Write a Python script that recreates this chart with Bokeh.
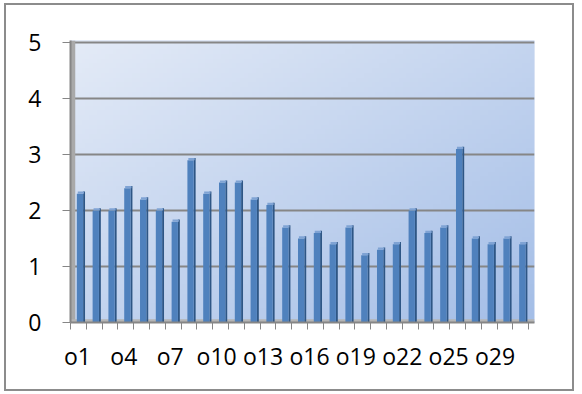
import numpy as np
from bokeh.plotting import figure
from bokeh.layouts import column
from bokeh.models import Range1d, FixedTicker, LinearAxis
from bokeh.embed import file_html
from bokeh.resources import INLINE

# ---- data ----
categories = ["o1", "o2", "o3", "o4", "o5", "o6", "o7", "o8", "o9", "o10",
              "o11", "o12", "o13", "o14", "o15", "o16", "o17", "o18", "o19", "o20",
              "o21", "o22", "o23", "o24", "o25", "o26", "o27", "o29", "o30"]
values = [2.3, 2.0, 2.0, 2.4, 2.2, 2.0, 1.8, 2.9, 2.3, 2.5,
          2.5, 2.2, 2.1, 1.7, 1.5, 1.6, 1.4, 1.7, 1.2, 1.3,
          1.4, 2.0, 1.6, 1.7, 3.1, 1.5, 1.4, 1.5, 1.4]
y_ticks = [0, 1, 2, 3, 4, 5]
label_step = 3

n = len(categories)
pos = np.arange(1, n + 1)          # category centres
x_start, x_end = 0.5, n + 0.5 + 0.37
y_start, y_end = 0, 5.04

FONT = "Open Sans"
GRAY = "#868686"

p = figure(width=566, height=384, output_backend="svg", toolbar_location=None,
           x_range=Range1d(x_start, x_end), y_range=Range1d(y_start, y_end),
           x_axis_location=None,
           min_border_left=64, min_border_right=38, min_border_top=35, min_border_bottom=67)
p.outline_line_color = None
p.background_fill_color = "#C8D6EF"
p.border_fill_color = "white"

# label axis range: the front-edge category labels sit slightly tighter than the bars
p.extra_x_ranges = {"labels": Range1d(0.55, 30.55)}

# diagonal gradient back wall
H, W = 60, 120
yy, xx = np.mgrid[0:H, 0:W]
t = (xx / (W - 1) * 0.5 + (1 - yy / (H - 1)) * 0.5)   # row 0 = bottom
c0 = np.array([0xE4, 0xEB, 0xF7])
c1 = np.array([0xA4, 0xBE, 0xE7])
rgb = c0[None, None, :] * (1 - t[..., None]) + c1[None, None, :] * t[..., None]
img = np.empty((H, W), dtype=np.uint32)
view = img.view(dtype=np.uint8).reshape((H, W, 4))
view[..., 0] = rgb[..., 0].astype(np.uint8)
view[..., 1] = rgb[..., 1].astype(np.uint8)
view[..., 2] = rgb[..., 2].astype(np.uint8)
view[..., 3] = 255
p.image_rgba(image=[img], x=x_start, y=y_start, dw=x_end - x_start, dh=y_end - y_start,
             level="image")

# grid: horizontal only
for g in p.grid:
    if g.dimension == 0:
        g.grid_line_color = None
    else:
        g.grid_line_color = GRAY
        g.grid_line_width = 2

# left wall and floor (3-D look)
p.quad(left=[x_start], right=[x_start + 0.3], bottom=[y_start], top=[y_end],
       fill_color="#A9A9A9", line_color=None)
p.quad(left=[x_start], right=[x_end], bottom=[y_start], top=[y_start + 0.06],
       fill_color="#B5B5B5", line_color=None)

vals = np.array(values)
# side faces
p.vbar(x=pos + 0.36, width=0.12, bottom=0, top=vals + 0.04,
       fill_color="#2E5685", line_color=None)
# front faces
p.vbar(x=pos + 0.1, width=0.4, bottom=0, top=vals,
       fill_color="#4F81BD", line_color=None)
# top faces
p.vbar(x=pos + 0.16, width=0.4, bottom=vals, top=vals + 0.04,
       fill_color="#7FA3D4", line_color=None)

# y axis
p.yaxis.ticker = FixedTicker(ticks=y_ticks)
p.yaxis.axis_line_color = GRAY
p.yaxis.axis_line_width = 2
p.yaxis.major_tick_line_color = GRAY
p.yaxis.major_tick_out = 8
p.yaxis.major_tick_in = 0
p.yaxis.minor_tick_line_color = None
p.yaxis.major_label_text_font = FONT
p.yaxis.major_label_text_font_size = "23px"
p.yaxis.major_label_text_color = "black"
p.yaxis.major_label_standoff = 21

# x axis: line + tick marks between categories
boundaries = list(np.arange(0.5, n + 1, 1.0))
tick_axis = LinearAxis(ticker=FixedTicker(ticks=[], minor_ticks=boundaries),
                       axis_line_color=GRAY, axis_line_width=2,
                       major_tick_line_color=None,
                       minor_tick_line_color=GRAY, minor_tick_out=7, minor_tick_in=0,
                       major_label_text_color=None)
p.add_layout(tick_axis, "below")

# x axis: category labels
label_pos = [int(v) for v in pos[::label_step]]
label_axis = LinearAxis(x_range_name="labels",
                        ticker=FixedTicker(ticks=label_pos, minor_ticks=[]),
                        major_label_overrides={int(pp): categories[pp - 1] for pp in label_pos},
                        axis_line_color=None, major_tick_line_color=None,
                        minor_tick_line_color=None, major_tick_out=0, major_tick_in=0,
                        major_label_text_font=FONT, major_label_text_font_size="23px",
                        major_label_text_color="black", major_label_standoff=10)
p.add_layout(label_axis, "below")

layout = column(p, styles={"border": "2px solid #8C8C8C", "margin-left": "4px",
                           "margin-top": "3px", "background-color": "white"})

open("out.html", "w").write(file_html(layout, INLINE))
